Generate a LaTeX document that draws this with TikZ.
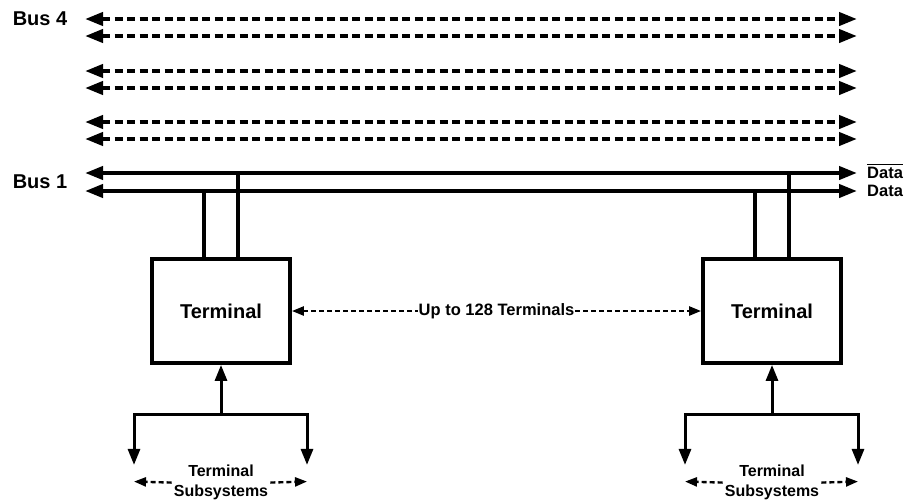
\documentclass[tikz,border=0pt]{standalone}
\usepackage{fontspec}
\setmainfont{Liberation Sans}
\usetikzlibrary{arrows.meta, positioning}

\begin{document}
\begin{tikzpicture}[x=1pt, y=-1pt,
    busline/.style={line width=4pt, {Triangle[length=18pt,width=13pt]}-{Triangle[length=18pt,width=13pt]}},
    busdash/.style={busline, dash pattern=on 8pt off 4.5pt},
    buslink/.style={line width=3.8pt},
    buslabel/.style={font=\bfseries\fontsize{20}{24}\selectfont},
    datalabel/.style={font=\bfseries\fontsize{16.5}{20}\selectfont, inner sep=0pt, anchor=west},
    terminal/.style={draw, line width=3.8pt, minimum width=138pt, minimum height=104pt,
        font=\bfseries\fontsize{20}{24}\selectfont},
    span/.style={line width=2.4pt, dash pattern=on 5pt off 3pt,
        {Triangle[length=12pt,width=9pt]}-{Triangle[length=12pt,width=9pt]}},
    feed/.style={line width=3pt, -{Triangle[length=16pt,width=12pt]}},
    sublabel/.style={font=\bfseries\fontsize{16}{20}\selectfont, align=center, inner sep=2pt},
    subspan/.style={line width=2.4pt, dash pattern=on 5pt off 3pt, -{Triangle[length=12pt,width=9pt]}}]

    \useasboundingbox (0,0) rectangle (917,501);

    % dashed buses 2..4
    \foreach \y [count=\i] in {19,36,71,88,122,139} {
        \coordinate (bl\i) at (85,\y);
        \coordinate (br\i) at (857,\y);
        \draw[busdash] (bl\i) -- (br\i);
    }

    % bus 1
    \coordinate (b1ul) at (85,173);
    \coordinate (b1ur) at (857,173);
    \coordinate (b1ll) at (85,191);
    \coordinate (b1lr) at (857,191);
    \draw[busline] (b1ul) -- (b1ur);
    \draw[busline] (b1ll) -- (b1lr);

    \node[buslabel] (bus4) at (40,19) {Bus 4};
    \node[buslabel] (bus1) at (40,182) {Bus 1};
    \node[datalabel, right=10pt of b1ur] (datan) {Data};
    \draw[line width=1.6pt] ([yshift=2.5pt]datan.north west) -- ([yshift=2.5pt]datan.north east);
    \node[datalabel, right=10pt of b1lr] (datap) {Data};

    % terminals
    \node[terminal] (tl) at (221,311) {Terminal};
    \node[terminal] (tr) at (772,311) {Terminal};

    \foreach \t in {tl,tr} {
        \draw[buslink] ([xshift=-17pt]\t.north) -- ([xshift=-17pt]\t.north |- b1ll);
        \draw[buslink] ([xshift=17pt]\t.north) -- ([xshift=17pt]\t.north |- b1ul);

        % subsystems
        \coordinate[below=50pt of \t.south] (\t s);
        \coordinate (\t sl) at ([xshift=-87pt]\t s);
        \coordinate (\t sr) at ([xshift=86pt]\t s);
        \draw[feed] (\t s) -- (\t.south);
        \draw[feed] (\t s) -- (\t sl) -- ++(0,50);
        \draw[feed] (\t s) -- (\t sr) -- ++(0,50);
        \node[sublabel, below=48pt of \t s] (\t n) {Terminal\\Subsystems};
        \draw[subspan] (\t n.west) -- ([yshift=1pt]\t n.west -| \t sl);
        \draw[subspan] (\t n.east) -- ([yshift=1pt]\t n.east -| \t sr);
    }

    \draw[span] (tl.east) -- node[fill=white, inner sep=1pt, font=\bfseries\fontsize{16.5}{20}\selectfont] (count) {Up to 128 Terminals} (tr.west);

\end{tikzpicture}
\end{document}
